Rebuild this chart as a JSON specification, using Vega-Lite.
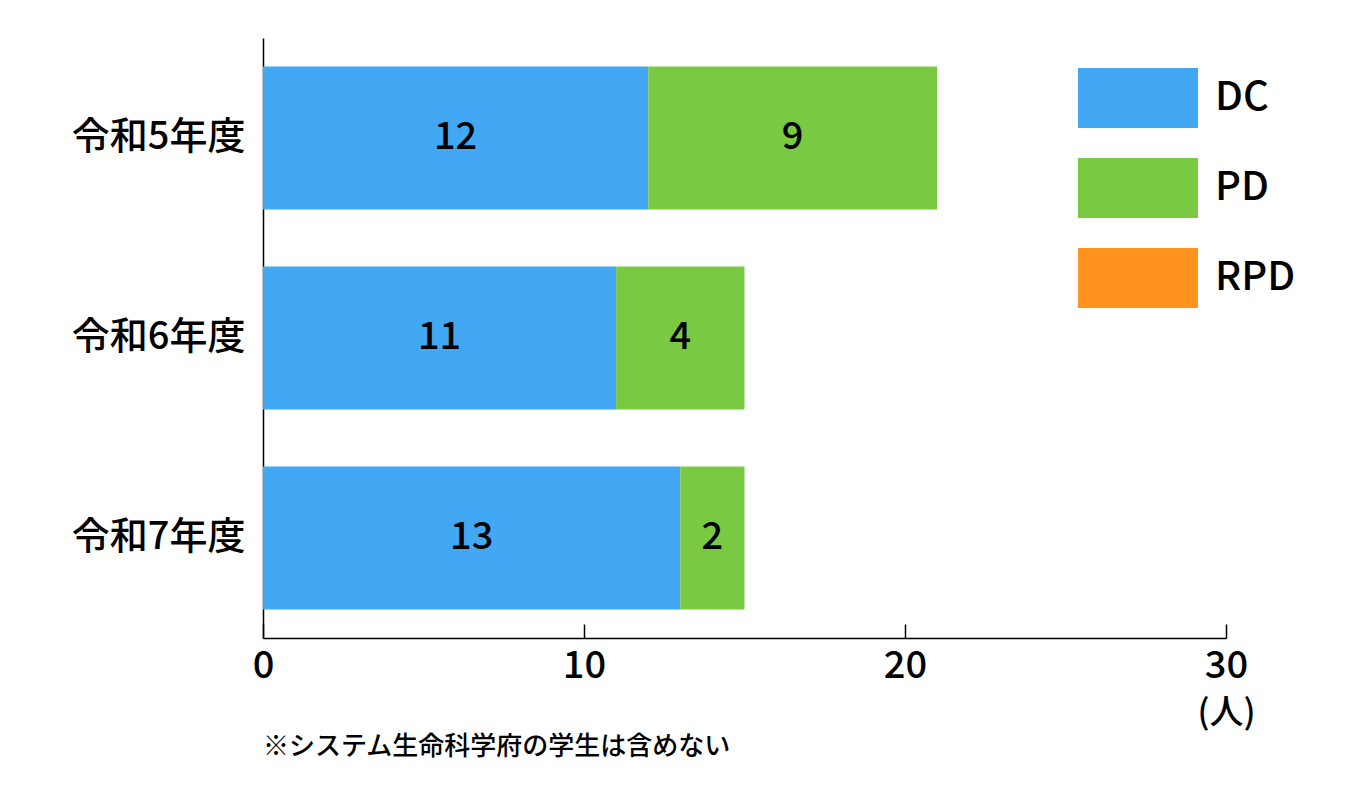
{
  "$schema": "https://vega.github.io/schema/vega-lite/v6.json",
  "width": 963,
  "height": 600,
  "autosize": {"type": "none"},
  "padding": {"left": 263, "top": 38, "right": 134, "bottom": 152},
  "background": "white",
  "title": {
    "text": "※システム生命科学府の学生は含めない",
    "orient": "bottom",
    "anchor": "start",
    "frame": "group",
    "fontSize": 26,
    "fontWeight": 500,
    "font": "Noto Sans CJK JP",
    "color": "black",
    "offset": 4
  },
  "data": {
    "values": [
      {"year": "令和5年度", "series": "DC", "value": 12},
      {"year": "令和5年度", "series": "PD", "value": 9},
      {"year": "令和5年度", "series": "RPD", "value": 0},
      {"year": "令和6年度", "series": "DC", "value": 11},
      {"year": "令和6年度", "series": "PD", "value": 4},
      {"year": "令和6年度", "series": "RPD", "value": 0},
      {"year": "令和7年度", "series": "DC", "value": 13},
      {"year": "令和7年度", "series": "PD", "value": 2},
      {"year": "令和7年度", "series": "RPD", "value": 0}
    ]
  },
  "transform": [
    {"stack": "value", "groupby": ["year"], "sort": [{"field": "series", "order": "ascending"}], "as": ["x0", "x1"]},
    {"calculate": "(datum.x0 + datum.x1) / 2", "as": "mid"}
  ],
  "encoding": {
    "y": {
      "field": "year",
      "type": "nominal",
      "sort": ["令和5年度", "令和6年度", "令和7年度"],
      "scale": {"paddingInner": 0.285, "paddingOuter": 0.1425},
      "axis": {
        "title": null,
        "ticks": false,
        "domainColor": "black",
        "domainWidth": 1.5,
        "labelFontSize": 38,
        "labelFont": "Noto Sans CJK JP",
        "labelFontWeight": 500,
        "labelColor": "black",
        "labelPadding": 18
      }
    }
  },
  "layer": [
    {
      "mark": {"type": "bar"},
      "encoding": {
        "x": {
          "field": "x0",
          "type": "quantitative",
          "scale": {"domain": [0, 30], "nice": false},
          "axis": {
            "values": [0, 10, 20, 30],
            "grid": false,
            "tickSize": -14,
            "tickColor": "black",
            "tickWidth": 1.5,
            "domainColor": "black",
            "domainWidth": 1.5,
            "labelFontSize": 38,
            "labelFont": "Noto Sans CJK JP",
            "labelFontWeight": 500,
            "labelColor": "black",
            "labelPadding": 23,
            "labelFlush": false,
            "title": "(人)",
            "titleFont": "Noto Sans CJK JP",
            "titleFontSize": 34,
            "titleFontWeight": 500,
            "titleColor": "black",
            "titleX": 963,
            "titleY": 75,
            "titleAlign": "center",
            "titleBaseline": "middle",
            "titleAnchor": null
          }
        },
        "x2": {"field": "x1"},
        "color": {
          "field": "series",
          "type": "nominal",
          "scale": {"domain": ["DC", "PD", "RPD"], "range": ["#42A8F4", "#7AC943", "#FF931E"]},
          "legend": {
            "title": null,
            "orient": "none",
            "legendX": 815,
            "legendY": 30,
            "symbolType": "M-1,-0.5H1V0.5H-1Z",
            "symbolSize": 14400,
            "symbolStrokeWidth": 0,
            "symbolOpacity": 1,
            "clipHeight": 60,
            "rowPadding": 30,
            "labelFontSize": 40,
            "labelFont": "Noto Sans CJK JP",
            "labelFontWeight": 500,
            "labelColor": "black",
            "labelOffset": 17
          }
        }
      }
    },
    {
      "transform": [{"filter": "datum.value > 0"}],
      "mark": {"type": "text", "fontSize": 38, "font": "Noto Sans CJK JP", "fontWeight": 500, "color": "black", "align": "center", "baseline": "middle"},
      "encoding": {
        "x": {"field": "mid", "type": "quantitative"},
        "text": {"field": "value", "type": "quantitative"}
      }
    }
  ],
  "config": {"view": {"stroke": null}}
}
